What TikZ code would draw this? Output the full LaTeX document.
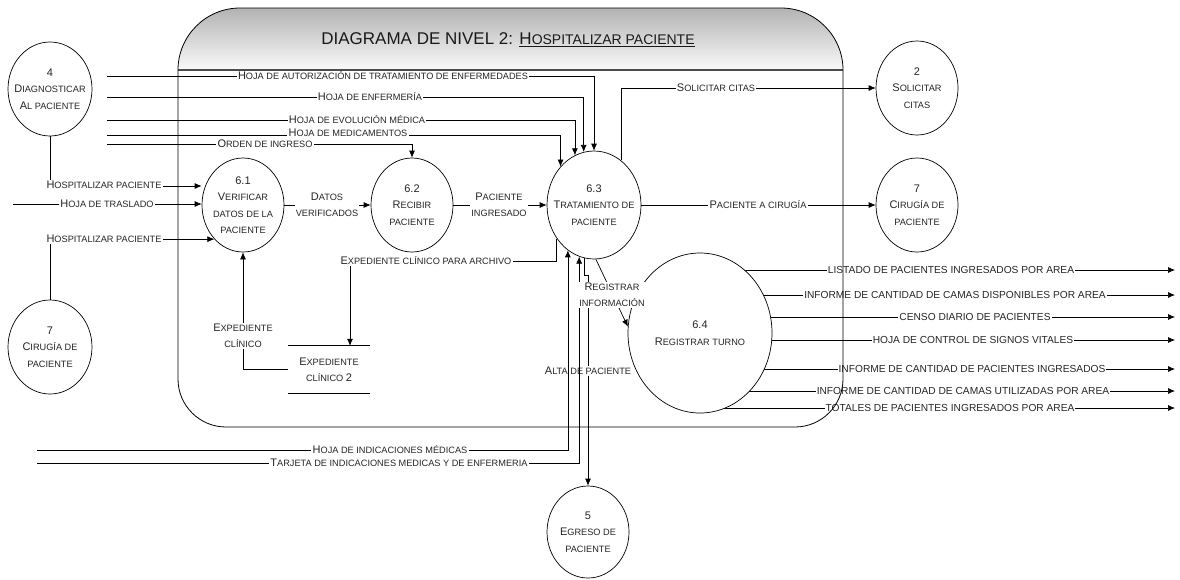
\documentclass[tikz,border=0pt]{standalone}
\usepackage{fontspec}
\setmainfont{Liberation Sans}
\usetikzlibrary{shapes.geometric,arrows.meta}
\pgfdeclarelayer{bg}
\pgfdeclarelayer{flowsbelow}
\pgfdeclarelayer{flows}
\pgfdeclarelayer{fg}
\pgfsetlayers{bg,flowsbelow,flows,main,fg}

% small-caps look: a large initial followed by smaller capitals
\newcommand\Sc[2]{{\fontsize{11}{16.4}\selectfont #1}{\fontsize{9.2}{16.4}\selectfont #2}}
\newcommand\Num[1]{{\fontsize{11}{16.4}\selectfont #1}}

\tikzset{
  proc/.style={ellipse, draw, fill=white, line width=0.7pt, inner sep=0pt},
  ptext/.style={align=center, font=\fontsize{9.2}{16.4}\selectfont, text=black!85},
  lbl/.style={fill=white, inner xsep=1.2pt, inner ysep=1pt, align=center,
              font=\fontsize{9.2}{16}\selectfont, text=black!85},
  outlbl/.style={fill=white, inner xsep=1pt, inner ysep=1pt,
              font=\fontsize{10.2}{12}\selectfont, text=black!85},
  flow/.style={line width=0.7pt, draw=black},
  arr/.style={flow, -{Latex[length=7pt,width=6pt]}},
}

\begin{document}
\begin{tikzpicture}[x=1pt,y=-1pt]
\useasboundingbox (0,0) rectangle (1180,579);

% ---------- frame of the level-2 diagram ----------
\begin{pgfonlayer}{bg}
  \fill[white] (0,0) rectangle (1180,579);
  \shade[top color=black!30, bottom color=black!2]
    (178,70) .. controls (178,35.8) and (205.8,8) .. (240,8) -- (781,8)
    .. controls (815.2,8) and (843,35.8) .. (843,70) -- cycle;
  \draw[line width=1.6pt, black!70] (178,70) -- (843,70);
\end{pgfonlayer}
\begin{pgfonlayer}{fg}
  \draw[line width=0.8pt]
    (178,70) .. controls (178,35.8) and (205.8,8) .. (240,8) -- (781,8)
    .. controls (815.2,8) and (843,35.8) .. (843,70) -- (843,379)
    .. controls (843,405.5) and (821.5,427) .. (795,427) -- (226,427)
    .. controls (199.5,427) and (178,405.5) .. (178,379) -- cycle;
\end{pgfonlayer}
\node[font=\fontsize{17}{20}\selectfont, text=black!90] (title) at (508,40)
  {DIAGRAMA DE NIVEL 2: \underline{H{\fontsize{14}{20}\selectfont OSPITALIZAR PACIENTE}}};

% ---------- processes ----------
\node[proc, minimum width=84pt, minimum height=94pt,
  label={[ptext]center:{\Num{4}\\\Sc{D}{IAGNOSTICAR}\\\Sc{A}{L PACIENTE}}}] (n4) at (50,89) {};
\node[proc, minimum width=84pt, minimum height=94pt,
  label={[ptext]center:{\Num{7}\\\Sc{C}{IRUGÍA DE}\\PACIENTE}}] (n7a) at (50,347) {};
\node[proc, minimum width=82pt, minimum height=94pt,
  label={[ptext]center:{\Num{6.1}\\\Sc{V}{ERIFICAR}\\DATOS DE LA\\PACIENTE}}] (n61) at (243,205) {};
\node[proc, minimum width=82pt, minimum height=94pt,
  label={[ptext]center:{\Num{6.2}\\\Sc{R}{ECIBIR}\\PACIENTE}}] (n62) at (412,205) {};
\node[proc, minimum width=94pt, minimum height=108pt,
  label={[ptext]center:{\Num{6.3}\\\Sc{T}{RATAMIENTO DE}\\PACIENTE}}] (n63) at (594,205) {};
\node[proc, minimum width=144pt, minimum height=160pt,
  label={[ptext]center:{\Num{6.4}\\\Sc{R}{EGISTRAR TURNO}}}] (n64) at (700,333) {};
\node[proc, minimum width=82pt, minimum height=94pt,
  label={[ptext]center:{\Num{2}\\\Sc{S}{OLICITAR}\\CITAS}}] (n2) at (917,88) {};
\node[proc, minimum width=82pt, minimum height=94pt,
  label={[ptext]center:{\Num{7}\\\Sc{C}{IRUGÍA DE}\\PACIENTE}}] (n7b) at (917,205) {};
\node[proc, minimum width=82pt, minimum height=92pt,
  label={[ptext]center:{\Num{5}\\\Sc{E}{GRESO DE}\\PACIENTE}}] (n5) at (588,532) {};

% ---------- data store ----------
\node[ptext, minimum width=82pt, minimum height=47pt] (ds) at (329,369.5)
  {\Sc{E}{XPEDIENTE}\\CLÍNICO \Num{2}};
\draw[flow] (ds.north west) -- (ds.north east);
\draw[flow] (ds.south west) -- (ds.south east);

% ---------- free ends ----------
\coordinate (a1) at (107,76);
\coordinate (a2) at (107,97);
\coordinate (a3) at (107,120);
\coordinate (a4) at (107,135);
\coordinate (a5) at (107,144);
\coordinate (t0) at (13,204);
\coordinate (b1) at (37,450);
\coordinate (b2) at (37,463);
\coordinate (e1) at (350,261);
\coordinate (o1) at (1175,270);
\coordinate (o2) at (1175,295);
\coordinate (o3) at (1175,317);
\coordinate (o4) at (1175,340);
\coordinate (o5) at (1175,369);
\coordinate (o6) at (1175,391);
\coordinate (o7) at (1175,408);

% ---------- flows ----------
\begin{pgfonlayer}{flowsbelow}
  \draw[arr] (n63.260) -- ++(0,17) -| (n5.north);
  \node[lbl] (lalta) at (588,371) {\Sc{A}{LTA DE PACIENTE}};
\end{pgfonlayer}
\begin{pgfonlayer}{flows}
  \draw[arr] (a1) -| (n63.north);
  \draw[arr] (a2) -| (n63.101);
  \draw[arr] (a3) -| (n63.111);
  \draw[arr] (a4) -| (n63.131);
  \draw[arr] (a5) -| (n62.north);
  \draw[arr] (n63.59) |- (n2.west);
  \draw[arr] (n63.east) -- (n7b.west);
  \draw[arr] (n61.east) -- (n62.west);
  \draw[arr] (n62.east) -- (n63.west);
  \draw[arr] (n63.222) |- (e1) -- (e1 |- ds.north);
  \draw[arr] (ds.west) -| (n61.south);
  \draw[arr] (n4.south) |- ([yshift=19pt]n61.west);
  \draw[arr] (t0) -- (n61.west |- t0);
  \draw[arr] (n7a.north) |- (n61.230);
  \draw[arr] (b1) -| (n63.240);
  \draw[arr] (b2) -| (n63.254);
  \draw[arr] (n63.272) -- (n64.175);
  \foreach \o in {o1,o2,o3,o4,o5,o6,o7}
    \draw[arr] (n64 |- \o) -- (\o);
\end{pgfonlayer}

% ---------- flow labels ----------
\node[lbl] (lautor) at (383,76) {\Sc{H}{OJA DE AUTORIZACIÓN DE TRATAMIENTO DE ENFERMEDADES}};
\node[lbl] (lenf) at (370,97) {\Sc{H}{OJA DE ENFERMERÍA}};
\node[lbl] (lmed) at (348,133) {\Sc{H}{OJA DE MEDICAMENTOS}};
\node[lbl] (levo) at (357,120) {\Sc{H}{OJA DE EVOLUCIÓN MÉDICA}};
\node[lbl] (lorden) at (265,144) {\Sc{O}{RDEN DE INGRESO}};
\node[lbl] (lsol) at (716,88) {\Sc{S}{OLICITAR CITAS}};
\node[lbl] (lcir) at (758,205) {\Sc{P}{ACIENTE A CIRUGÍA}};
\node[lbl] (ldatos) at (327,205) {\Sc{D}{ATOS}\\VERIFICADOS};
\node[lbl] (ling) at (499,205) {\Sc{P}{ACIENTE}\\INGRESADO};
\node[lbl] (larch) at (426,261) {\Sc{E}{XPEDIENTE CLÍNICO PARA ARCHIVO}};
\node[lbl] (lexp) at (243,336) {\Sc{E}{XPEDIENTE}\\CLÍNICO};
\node[lbl] (lhosp1) at (104,185) {\Sc{H}{OSPITALIZAR PACIENTE}};
\node[lbl] (ltras) at (107,204) {\Sc{H}{OJA DE TRASLADO}};
\node[lbl] (lhosp2) at (104,239) {\Sc{H}{OSPITALIZAR PACIENTE}};
\node[lbl] (lreg) at (612,295) {\Sc{R}{EGISTRAR}\\INFORMACIÓN};
\node[lbl] (lind) at (390,450) {\Sc{H}{OJA DE INDICACIONES MÉDICAS}};
\node[lbl] (ltarj) at (399,463) {\Sc{T}{ARJETA DE INDICACIONES MEDICAS Y DE ENFERMERIA}};

\node[outlbl] (lo1) at (951,270) {LISTADO DE PACIENTES INGRESADOS POR AREA};
\node[outlbl] (lo2) at (955,295) {INFORME DE CANTIDAD DE CAMAS DISPONIBLES POR AREA};
\node[outlbl] (lo3) at (975,317) {CENSO DIARIO DE PACIENTES};
\node[outlbl] (lo4) at (973,340) {HOJA DE CONTROL DE SIGNOS VITALES};
\node[outlbl] (lo5) at (972,369) {INFORME DE CANTIDAD DE PACIENTES INGRESADOS};
\node[outlbl] (lo6) at (963,391) {INFORME DE CANTIDAD DE CAMAS UTILIZADAS POR AREA};
\node[outlbl] (lo7) at (950,408) {TOTALES DE PACIENTES INGRESADOS POR AREA};
\end{tikzpicture}
\end{document}
